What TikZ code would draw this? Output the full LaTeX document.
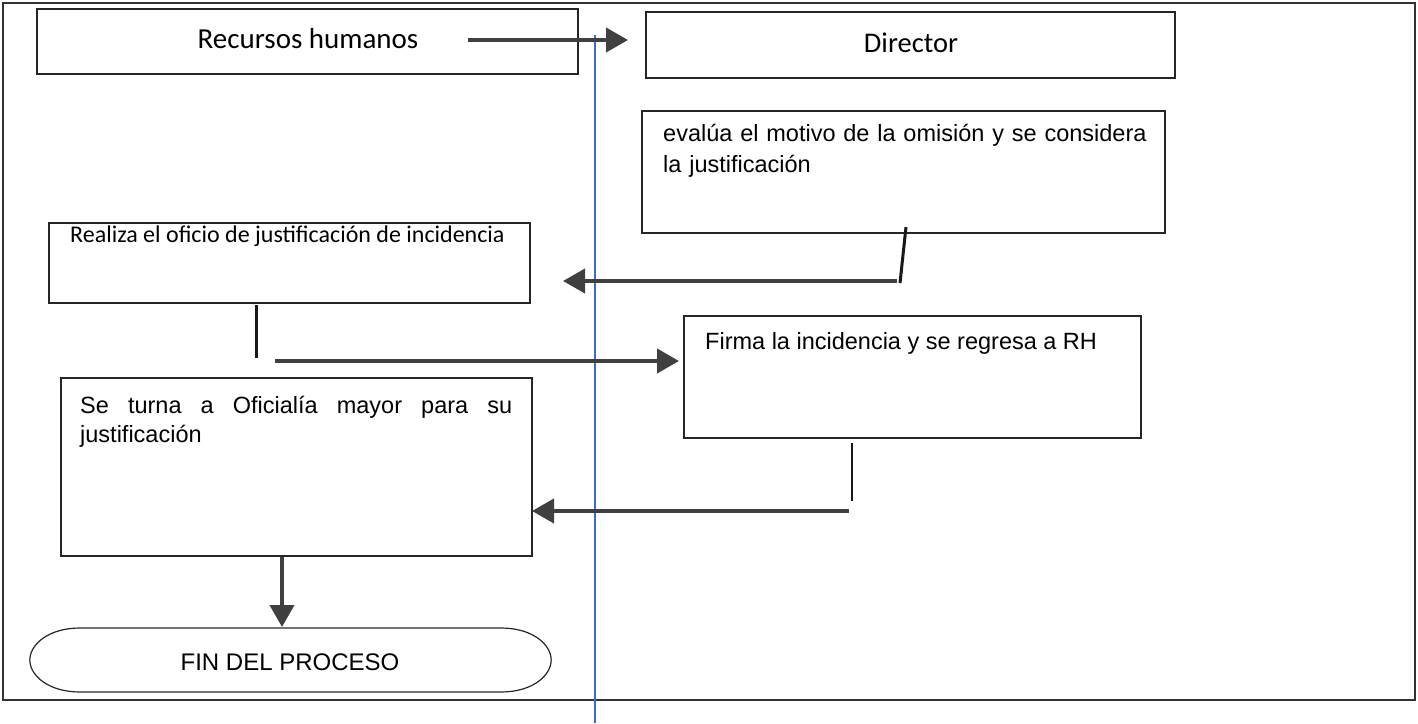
\documentclass[tikz,border=0pt]{standalone}
\usepackage{fontspec}
\setmainfont{Liberation Sans}
\newfontfamily\calib{Carlito}
\usetikzlibrary{arrows.meta}
\definecolor{arrgray}{HTML}{404040}
\definecolor{laneblue}{HTML}{3B6FC0}
\begin{document}
\begin{tikzpicture}[x=1pt,y=-1pt,
  box/.style={draw=black!85,line width=1.2pt,rectangle,inner sep=0pt},
  txt/.style={inner sep=0pt,font=\fontsize{23.5}{29}\selectfont},
  ctxt/.style={inner sep=0pt,font=\calib\fontsize{29}{32}\selectfont},
  arr/.style={draw=arrgray,line width=4pt,-{Triangle[length=22pt,width=24pt]},fill=arrgray},
  stub/.style={draw=black!90,line width=3pt},
  thinstub/.style={draw=black!90,line width=1.6pt}]
\useasboundingbox (0,0) rectangle (1418,723);
% outer frame
\draw[line width=1.3pt,draw=black!80] (3,3) rectangle (1415,700);
% boxes
\node[box,minimum width=541pt,minimum height=65pt] (rh) at (307.5,41.5) {};
\node[ctxt] (rht) at (308,39) {Recursos humanos};
\node[box,minimum width=529pt,minimum height=66pt] (dir) at (910.5,45) {};
\node[ctxt,font=\calib\fontsize{28.5}{32}\selectfont] (dirt) at (911,43) {Director};
\node[box,minimum width=523pt,minimum height=122pt] (eva) at (903.5,172) {};
\node[txt,anchor=north west,text width=490pt,align=left] (evat) at (663,124) {evalúa el motivo de la omisión y se considera\\[2pt]la justificación};
\node[box,minimum width=481pt,minimum height=80pt] (rea) at (289.5,263) {};
\node[ctxt,anchor=west,font=\calib\fontsize{24}{28}\selectfont] (reat) at (70,236) {Realiza el oficio de justificación de incidencia};
\node[box,minimum width=457pt,minimum height=122pt] (fir) at (912.5,377) {};
\node[txt,anchor=west] (firt) at (705,343) {Firma la incidencia y se regresa a RH};
\node[box,minimum width=471pt,minimum height=178pt] (tur) at (296.5,467) {};
\node[txt,anchor=north west,text width=432pt,align=justify] (turt) at (80,396) {\hyphenpenalty=10000 Se turna a Oficialía mayor para su\linebreak justificación};
% end terminal
\node[minimum width=521pt,minimum height=64pt,inner sep=0pt] (fin) at (290.5,660) {};
\coordinate (ftl) at (80,628);
\coordinate (ftr) at (501,628);
\coordinate (fbr) at (501,692);
\coordinate (fbl) at (80,692);
\draw[draw=black!85,line width=1.2pt] (ftl) -- (ftr)
  .. controls (532,628) and (551,644) .. (fin.east)
  .. controls (551,676) and (532,692) .. (fbr) -- (fbl)
  .. controls (49,692) and (30,676) .. (fin.west)
  .. controls (30,644) and (49,628) .. (ftl) -- cycle;
\node[txt,font=\fontsize{24}{26}\selectfont] (fint) at (290,662) {FIN DEL PROCESO};
% swimlane divider
\coordinate (bl1) at (595,35);
\coordinate (bl2) at (595,723);
\draw[laneblue,line width=1.5pt] (bl1) -- (bl2);
% connectors
\coordinate (a1s) at (468,40);
\coordinate (a1e) at (628,40);
\draw[arr] (a1s) -- (a1e);
\coordinate (s2a) at (906,227);
\coordinate (s2b) at (900,283);
\draw[stub] (s2a) -- (s2b);
\coordinate (a2s) at (897,281);
\coordinate (a2e) at (563,281);
\draw[arr] (a2s) -- (a2e);
\coordinate (s3a) at (256,305);
\coordinate (s3b) at (256,358);
\draw[stub] (s3a) -- (s3b);
\coordinate (a3s) at (275,361);
\coordinate (a3e) at (679,361);
\draw[arr] (a3s) -- (a3e);
\coordinate (s4a) at (852,443);
\coordinate (s4b) at (852,501);
\draw[thinstub] (s4a) -- (s4b);
\coordinate (a4s) at (849,511);
\coordinate (a4e) at (532,511);
\draw[arr] (a4s) -- (a4e);
\coordinate (a5s) at (282,557);
\coordinate (a5e) at (282,627);
\draw[arr] (a5s) -- (a5e);
\end{tikzpicture}
\end{document}
